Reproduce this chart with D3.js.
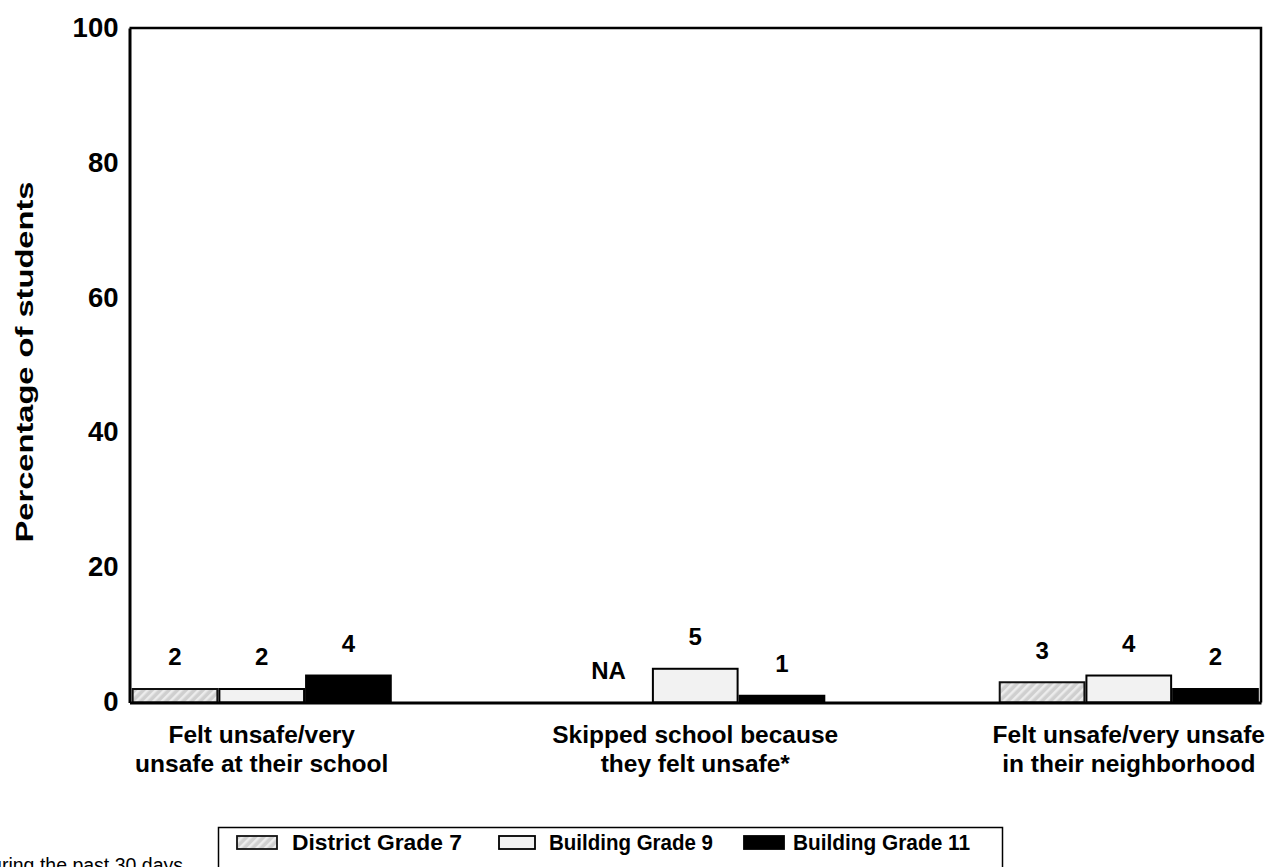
<!DOCTYPE html>
<html>
<head>
<meta charset="utf-8">
<script src="https://cdn.jsdelivr.net/npm/d3@7"></script>
<style>
  html, body { margin: 0; padding: 0; background: #fff; }
  svg { display: block; font-family: "Liberation Sans", Arial, Helvetica, sans-serif; }
</style>
</head>
<body>
<svg id="chart" width="1272" height="867"></svg>
<script>
// Survey measures (categories along the x axis, each label split into lines)
const categories = [
  ["Felt unsafe/very", "unsafe at their school"],
  ["Skipped school because", "they felt unsafe*"],
  ["Felt unsafe/very unsafe", "in their neighborhood"]
];
const seriesNames = ["District Grade 7", "Building Grade 9", "Building Grade 11"];
// Percentages per series, one per category (null = not available)
const districtGrade7 = [2, null, 3];
const buildingGrade9 = [2, 5, 4];
const buildingGrade11 = [4, 1, 2];
const yTicks = [0, 20, 40, 60, 80, 100];
const footnote = "*During the past 30 days";

const seriesValues = [districtGrade7, buildingGrade9, buildingGrade11];

const svg = d3.select("#chart");
const plotLeft = 129.5, plotRight = 1261, plotTop = 28, plotBottom = 702.5;

// Hatched fill for the district series
const defs = svg.append("defs");
const pat = defs.append("pattern")
  .attr("id", "hatch")
  .attr("patternUnits", "userSpaceOnUse")
  .attr("width", 6).attr("height", 6)
  .attr("patternTransform", "rotate(45)");
pat.append("rect").attr("width", 6).attr("height", 6).attr("fill", "#cfcfcf");
pat.append("rect").attr("x", 0).attr("width", 2.5).attr("height", 6).attr("fill", "#ececec");

const fills = ["url(#hatch)", "#f2f2f2", "#000"];
const strokes = ["#111", "#000", "#000"];

const x0 = d3.scaleBand()
  .domain(d3.range(categories.length))
  .range([plotLeft, plotRight])
  .paddingInner(0.4)
  .paddingOuter(0.005);
const x1 = d3.scaleBand()
  .domain(d3.range(seriesNames.length))
  .range([0, x0.bandwidth()]);
const y = d3.scaleLinear().domain([0, 100]).range([plotBottom, plotTop]);

// Plot frame (top and right edges)
svg.append("path")
  .attr("d", `M${plotLeft},${plotTop}H${plotRight}V${plotBottom}`)
  .attr("fill", "none").attr("stroke", "#000").attr("stroke-width", 2.5);

// Bars
const groups = svg.append("g").selectAll("g")
  .data(categories)
  .join("g")
  .attr("transform", (d, i) => `translate(${x0(i)},0)`);

groups.each(function (cat, ci) {
  const g = d3.select(this);
  seriesValues.forEach((vals, si) => {
    const v = vals[ci];
    const bx = x1(si), bw = x1.bandwidth();
    if (v !== null) {
      g.append("rect")
        .attr("x", bx + 1)
        .attr("y", y(v))
        .attr("width", bw - 2)
        .attr("height", y(0) - y(v))
        .attr("fill", fills[si])
        .attr("stroke", strokes[si])
        .attr("stroke-width", 2);
    }
    g.append("text")
      .attr("x", bx + bw / 2)
      .attr("y", y(v === null ? 0 : v) - 32)
      .attr("dy", "0.35em")
      .attr("text-anchor", "middle")
      .attr("font-size", 24)
      .attr("font-weight", "bold")
      .text(v === null ? "NA" : v);
  });
});

// Y axis
const yAxis = svg.append("g")
  .attr("transform", `translate(${plotLeft},0)`)
  .call(d3.axisLeft(y).tickValues(yTicks).tickSize(0).tickPadding(11));
yAxis.select(".domain").attr("stroke", "#000").attr("stroke-width", 3);
yAxis.selectAll("text")
  .attr("font-family", "Liberation Sans, Arial, sans-serif")
  .attr("font-size", 27.5).attr("font-weight", "bold").attr("fill", "#000")
  .attr("dy", "0.3em");

// X axis
const xAxis = svg.append("g")
  .attr("transform", `translate(0,${plotBottom})`)
  .call(d3.axisBottom(x0).tickSize(0).tickFormat(""));
xAxis.select(".domain").attr("stroke", "#000").attr("stroke-width", 3);

xAxis.selectAll(".tick").each(function (d) {
  const t = d3.select(this).append("text")
    .attr("text-anchor", "middle")
    .attr("font-family", "Liberation Sans, Arial, sans-serif")
    .attr("font-size", 24.5)
    .attr("font-weight", "bold")
    .attr("fill", "#000");
  categories[d].forEach((line, li) => {
    t.append("tspan").attr("x", 0).attr("y", 40.5 + li * 28.5).text(line);
  });
});

// Y axis title (drawn wide, spanning most of the axis)
svg.append("text")
  .attr("transform", `translate(33,362) rotate(-90)`)
  .attr("text-anchor", "middle")
  .attr("font-size", 24)
  .attr("font-weight", "bold")
  .attr("textLength", 361)
  .attr("lengthAdjust", "spacingAndGlyphs")
  .text("Percentage of students");

// Legend
const legend = svg.append("g");
legend.append("rect")
  .attr("x", 218.5).attr("y", 827.5)
  .attr("width", 784).attr("height", 70)
  .attr("fill", "#fff").attr("stroke", "#000").attr("stroke-width", 1.5);
const swatchX = [237, 499, 744];
const labelX = [292, 549, 793];
const labelLen = [170, 164, 177];
seriesNames.forEach((name, i) => {
  legend.append("rect")
    .attr("x", swatchX[i]).attr("y", 836)
    .attr("width", swatchX[i] === 499 ? 36 : 40).attr("height", 13)
    .attr("fill", fills[i]).attr("stroke", strokes[i]).attr("stroke-width", 1.8);
  legend.append("text")
    .attr("x", labelX[i]).attr("y", 849.5)
    .attr("font-size", 21.5).attr("font-weight", "bold")
    .attr("textLength", labelLen[i])
    .attr("lengthAdjust", "spacingAndGlyphs")
    .text(name);
});

// Footnote
svg.append("text")
  .attr("x", 183).attr("y", 872)
  .attr("text-anchor", "end")
  .attr("font-size", 19.5)
  .text(footnote);
</script>
</body>
</html>
